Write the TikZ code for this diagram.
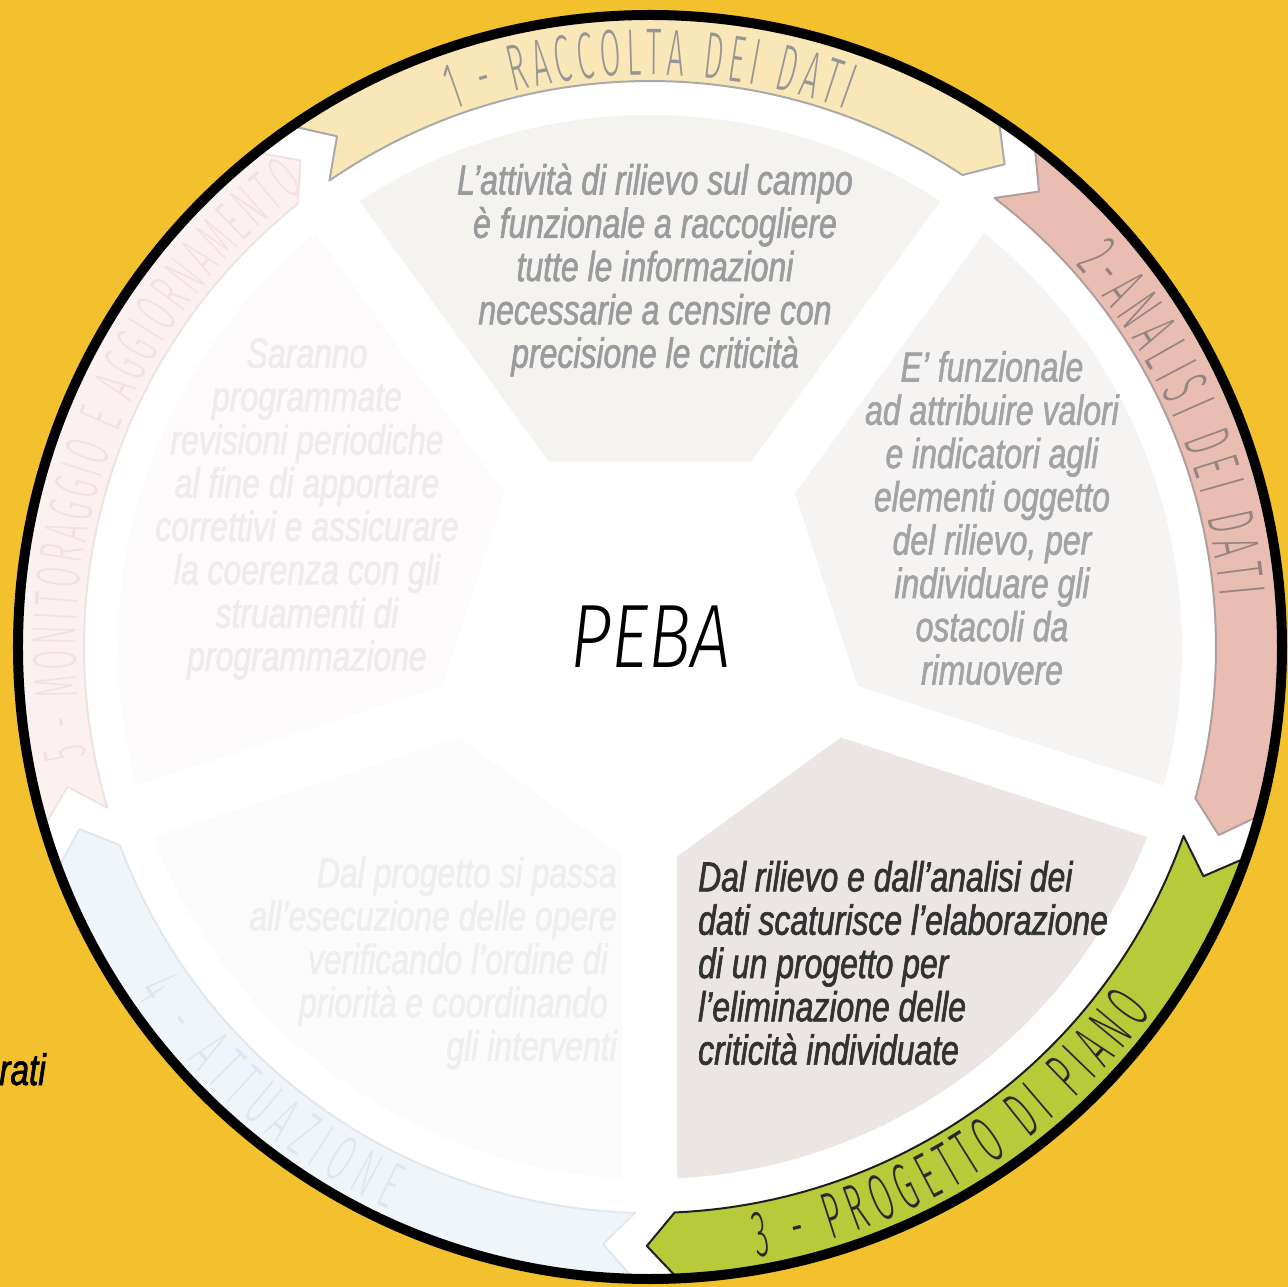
\documentclass[tikz,border=0pt]{standalone}
\usepackage{fontspec}
\setmainfont{Liberation Sans}
\newfontfamily\narrowfont{Liberation Sans}[FakeStretch=0.76, FakeBold=1.5]
\newfontfamily\thinfont{Fira Sans}[UprightFont=* Light, ItalicFont=* Light Italic, FakeStretch=0.8]
\newfontfamily\ribbonfont{Fira Sans}[UprightFont=* Light, FakeStretch=0.46]
\usetikzlibrary{decorations.text}

\definecolor{bgyellow}{RGB}{242,193,45}
\definecolor{rib1}{RGB}{249,231,184}
\definecolor{rib2}{RGB}{233,189,178}
\definecolor{rib3}{RGB}{182,202,58}
\definecolor{rib4}{RGB}{240,245,250}
\definecolor{rib5}{RGB}{251,241,241}
\definecolor{rib1line}{RGB}{170,170,170}
\definecolor{rib2line}{RGB}{175,160,158}
\definecolor{rib3line}{RGB}{30,30,30}
\definecolor{rib4line}{RGB}{226,231,238}
\definecolor{rib5line}{RGB}{240,226,226}
\definecolor{lab1}{RGB}{150,150,150}
\definecolor{lab2}{RGB}{150,132,128}
\definecolor{lab3}{RGB}{40,40,40}
\definecolor{lab4}{RGB}{222,230,240}
\definecolor{lab5}{RGB}{244,224,224}
\definecolor{sec1}{RGB}{245,243,240}
\definecolor{sec2}{RGB}{246,244,243}
\definecolor{sec3}{RGB}{235,229,228}
\definecolor{sec4}{RGB}{251,251,251}
\definecolor{sec5}{RGB}{252,250,250}
\definecolor{txt1}{RGB}{155,155,158}
\definecolor{txt2}{RGB}{163,163,166}
\definecolor{txt3}{RGB}{50,50,50}
\definecolor{txt4}{RGB}{238,238,238}
\definecolor{txt5}{RGB}{237,235,235}

\tikzstyle{sectext}=[inner sep=0pt,font={\narrowfont\itshape\fontsize{42}{43.3}\selectfont}]
\tikzstyle{ribbon}=[line width=2pt,line join=round]
\tikzstyle{gapline}=[white,line width=54pt]
\tikzstyle{rim}=[line width=10pt]

\begin{document}
\begin{tikzpicture}[x=1pt,y=1pt]

    % background
    \fill[bgyellow] (-650,-640) rectangle (638,647);
    \useasboundingbox (-650,-640) rectangle (638,647);
    \fill[white] (0,0) circle (632);

    % sectors
    \foreach \c/\fc in {90/sec1,18/sec2,-54/sec3,-126/sec4,162/sec5} {
      \fill[fill=\fc] (0,0) -- ({\c+36}:532)
        arc[start angle={\c+36},end angle={\c-36},radius=532] -- cycle;
    }
    % white gaps
    \foreach \a in {54,-18,-90,-162,126}
      \draw[gapline] (0,0) -- (\a:548);
    \fill[white] (54:229) -- (-18:229) -- (-90:229) -- (-162:229)
      -- (126:229) -- cycle;

    % ribbons
    \foreach \c/\fc/\lc in {90/rib1/rib1line,18/rib2/rib2line,
        -54/rib3/rib3line,-126/rib4/rib4line,162/rib5/rib5line} {
      \filldraw[ribbon,fill=\fc,draw=\lc] ({\c+34.5}:632)
        arc[start angle={\c+34.5},end angle={\c-33.5},radius=632]
        -- ({\c-36.3}:599) -- ({\c-33.5}:566)
        arc[start angle={\c-33.5},end angle={\c+34.5},radius=566]
        -- ({\c+31.5}:599) -- cycle;
    }

    % ribbon labels
    \path[decorate,decoration={text along path,text align={fit to path},
        text={|\ribbonfont\fontsize{66}{66}\selectfont\color{lab1}|1 - RACCOLTA DEI DATI}}]
      (110:572) arc[start angle=110,end angle=70,radius=572];
    \path[decorate,decoration={text along path,text align={fit to path},
        text={|\ribbonfont\fontsize{66}{66}\selectfont\color{lab2}|2-ANALISI DEI DATI}}]
      (42:572) arc[start angle=42,end angle=5,radius=572];
    \path[decorate,decoration={text along path,text align={fit to path},
        text={|\ribbonfont\fontsize{66}{66}\selectfont\color{lab3}|3 - PROGETTO DI PIANO}}]
      (-80:620) arc[start angle=-80,end angle=-36,radius=620];
    \path[decorate,decoration={text along path,text align={fit to path},
        text={|\ribbonfont\fontsize{66}{66}\selectfont\color{lab4}|4 - ATTUAZIONE}}]
      (-146:620) arc[start angle=-146,end angle=-115,radius=620];
    \path[decorate,decoration={text along path,text align={fit to path},
        text={|\ribbonfont\fontsize{62}{62}\selectfont\color{lab5}|5 - MONITORAGGIO E AGGIORNAMENTO}}]
      (191:574) arc[start angle=191,end angle=127,radius=574];

    \draw[rim] (0,0) circle (632);

    % sector texts
    \node[sectext,text=txt1,align=center] (raccolta) at (5,377)
      {L’attività di rilievo sul campo\\è funzionale a raccogliere\\tutte le informazioni\\necessarie a censire con\\precisione le criticità};
    \node[sectext,text=txt2,align=center] (analisi) at (342,129)
      {E’ funzionale\\ad attribuire valori\\e indicatori agli\\elementi oggetto\\del rilievo, per\\individuare gli\\ostacoli da\\rimuovere};
    \node[sectext,text=txt3,align=left,anchor=west] (progetto) at (48,-316)
      {Dal rilievo e dall’analisi dei\\dati scaturisce l’elaborazione\\di un progetto per\\l’eliminazione delle\\criticità individuate};
    \node[sectext,text=txt4,align=right,anchor=east] (attuazione) at (-33,-316)
      {Dal progetto si passa\\all’esecuzione delle opere\\verificando l’ordine di\kern9pt\\priorità e coordinando\kern9pt\\gli interventi};
    \node[sectext,text=txt5,align=center] (monitoraggio) at (-343,138)
      {Saranno\\programmate\\revisioni periodiche\\al fine di apportare\\correttivi e assicurare\\la coerenza con gli\\struamenti di\\programmazione};

    % centre
    \node[inner sep=0pt,anchor=base,font={\thinfont\itshape\fontsize{90}{90}\selectfont}]
      (peba) at (1,-21) {PEBA};
    \node[inner sep=0pt,anchor=base east,font={\narrowfont\itshape\fontsize{44}{44}\selectfont}]
      (rati) at (-604,-438) {rati};
  \end{tikzpicture}
\end{document}
